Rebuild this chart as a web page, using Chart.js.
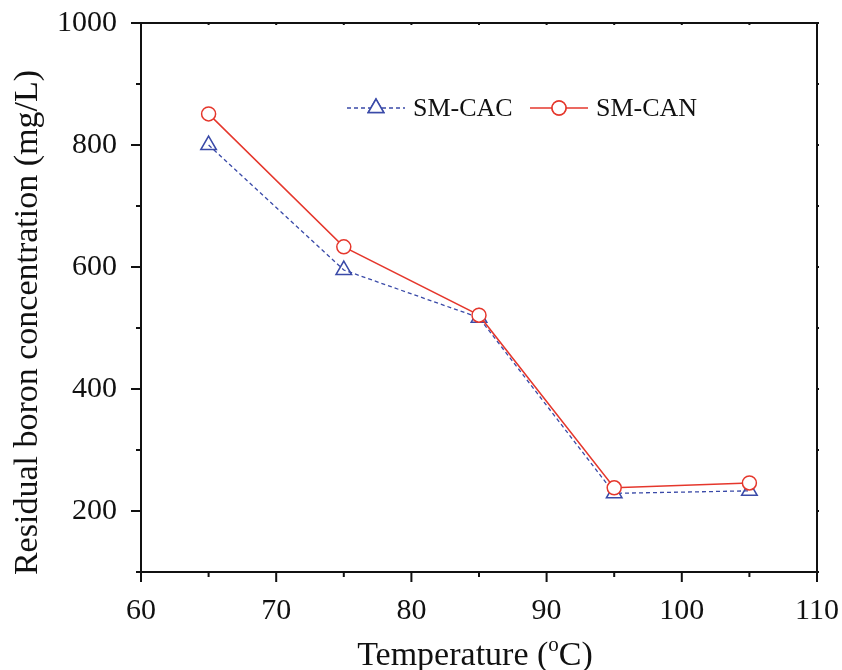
<!DOCTYPE html>
<html lang="en">
<head>
    <meta charset="UTF-8">
    <title>Residual boron vs temperature</title>
    <script src="https://cdn.jsdelivr.net/npm/chart.js"></script>
    <style>
        body {
            margin: 0;
            padding: 0;
            background-color: #ffffff;
        }
        #wrap {
            width: 842px;
            height: 670px;
        }
    </style>
</head>
<body>
    <div id="wrap"><canvas id="boron-chart" width="842" height="670"></canvas></div>

    <script>
        const temperatures = [65, 75, 85, 95, 105];
        const smCac = [800, 595, 517, 229, 233];
        const smCan = [851, 633, 521, 238, 246];
        const seriesNames = ['SM-CAC', 'SM-CAN'];
        const xTicks = [60, 70, 80, 90, 100, 110];
        const yTicks = [200, 400, 600, 800, 1000];

        const blue = '#3a4aa8';
        const red = '#e5372c';
        const serif = '"Liberation Serif", "Times New Roman", serif';

        // frame, ticks, axis titles and legend
        const framePlugin = {
            id: 'frame',
            afterDraw(chart) {
                const ctx = chart.ctx;
                const a = chart.chartArea;
                const xs = chart.scales.x;
                const ys = chart.scales.y;
                ctx.save();
                ctx.strokeStyle = '#111';
                ctx.lineWidth = 2;
                ctx.strokeRect(a.left, a.top, a.right - a.left, a.bottom - a.top);

                for (let v = 60; v <= 110; v += 5) {
                    const px = xs.getPixelForValue(v);
                    const len = v % 10 === 0 ? 10 : 5;
                    ctx.beginPath();
                    ctx.moveTo(px, a.bottom);
                    ctx.lineTo(px, a.bottom + len);
                    ctx.moveTo(px, a.top);
                    ctx.lineTo(px, a.top + 2);
                    ctx.stroke();
                }
                for (let v = 100; v <= 1000; v += 100) {
                    const py = ys.getPixelForValue(v);
                    const len = v % 200 === 0 ? 10 : 5;
                    ctx.beginPath();
                    ctx.moveTo(a.left, py);
                    ctx.lineTo(a.left - len, py);
                    ctx.moveTo(a.right, py);
                    ctx.lineTo(a.right + 2, py);
                    ctx.stroke();
                }

                // x title with superscript o
                ctx.fillStyle = '#111';
                ctx.textBaseline = 'alphabetic';
                const t1 = 'Temperature (';
                const t2 = 'C)';
                ctx.font = '34px ' + serif;
                const w1 = ctx.measureText(t1).width;
                const w2 = ctx.measureText(t2).width;
                ctx.font = '21px ' + serif;
                const wo = ctx.measureText('o').width;
                const total = w1 + wo + w2;
                const x0 = (a.left + a.right) / 2 - 4 - total / 2;
                const base = 665;
                ctx.textAlign = 'left';
                ctx.font = '34px ' + serif;
                ctx.fillText(t1, x0, base);
                ctx.font = '21px ' + serif;
                ctx.fillText('o', x0 + w1, base - 14);
                ctx.font = '34px ' + serif;
                ctx.fillText(t2, x0 + w1 + wo, base);

                // y title
                ctx.save();
                ctx.translate(37, (a.top + a.bottom) / 2 + 25);
                ctx.rotate(-Math.PI / 2);
                ctx.textAlign = 'center';
                ctx.font = '34px ' + serif;
                ctx.fillText('Residual boron concentration (mg/L)', 0, 0);
                ctx.restore();

                // legend
                const ly = 108;
                const items = [
                    { x: 347, color: blue, dash: [4, 3], style: 'triangle', name: seriesNames[0] },
                    { x: 530, color: red, dash: [], style: 'circle', name: seriesNames[1] }
                ];
                items.forEach(it => {
                    ctx.strokeStyle = it.color;
                    ctx.lineWidth = 1.3;
                    ctx.setLineDash(it.dash);
                    ctx.beginPath();
                    ctx.moveTo(it.x, ly);
                    ctx.lineTo(it.x + 58, ly);
                    ctx.stroke();
                    ctx.setLineDash([]);
                    ctx.lineWidth = 1.5;
                    ctx.fillStyle = '#fff';
                    Chart.helpers.drawPoint(ctx, { pointStyle: it.style, radius: it.style === 'circle' ? 7 : 9, borderWidth: 1.5 }, it.x + 29, ly);
                    ctx.fill();
                    ctx.stroke();
                    ctx.fillStyle = '#111';
                    ctx.font = '26px ' + serif;
                    ctx.textAlign = 'left';
                    ctx.textBaseline = 'middle';
                    ctx.fillText(it.name, it.x + 66, ly + 1);
                });
                ctx.restore();
            }
        };

        const boronChart = new Chart(document.getElementById('boron-chart').getContext('2d'), {
            type: 'line',
            data: {
                labels: temperatures,
                datasets: [{
                    label: seriesNames[0],
                    data: temperatures.map((t, i) => ({ x: t, y: smCac[i] })),
                    borderColor: blue,
                    borderWidth: 1.3,
                    borderDash: [4, 3],
                    pointStyle: 'triangle',
                    pointRadius: 9,
                    pointBorderWidth: 1.5,
                    pointBorderColor: blue,
                    pointBackgroundColor: 'rgba(255,255,255,0)',
                    order: 1
                }, {
                    label: seriesNames[1],
                    data: temperatures.map((t, i) => ({ x: t, y: smCan[i] })),
                    borderColor: red,
                    borderWidth: 1.5,
                    pointStyle: 'circle',
                    pointRadius: 7,
                    pointBorderWidth: 1.5,
                    pointBorderColor: red,
                    pointBackgroundColor: '#ffffff',
                    order: 0
                }]
            },
            options: {
                responsive: false,
                animation: false,
                layout: { padding: { left: 0, right: 25, top: 23, bottom: 0 } },
                plugins: {
                    legend: { display: false },
                    tooltip: { enabled: false }
                },
                scales: {
                    x: {
                        type: 'linear',
                        min: 60,
                        max: 110,
                        afterFit: s => {
                            s.height = 98;
                            s.paddingLeft = 0;
                            s.paddingRight = 0;
                        },
                        afterBuildTicks: s => { s.ticks = xTicks.map(v => ({ value: v })); },
                        grid: { display: false, drawTicks: false },
                        border: { display: false },
                        ticks: {
                            color: '#111',
                            padding: 21,
                            autoSkip: false,
                            maxRotation: 0,
                            callback: v => String(v),
                            font: { family: serif, size: 30 }
                        }
                    },
                    y: {
                        min: 100,
                        max: 1000,
                        afterFit: s => {
                            s.width = 141;
                            s.paddingTop = 0;
                            s.paddingBottom = 0;
                        },
                        afterBuildTicks: s => { s.ticks = yTicks.map(v => ({ value: v })); },
                        grid: { display: false, drawTicks: false },
                        border: { display: false },
                        ticks: {
                            color: '#111',
                            padding: 24,
                            callback: v => String(v),
                            font: { family: serif, size: 30 }
                        }
                    }
                }
            },
            plugins: [framePlugin]
        });
    </script>
</body>
</html>
